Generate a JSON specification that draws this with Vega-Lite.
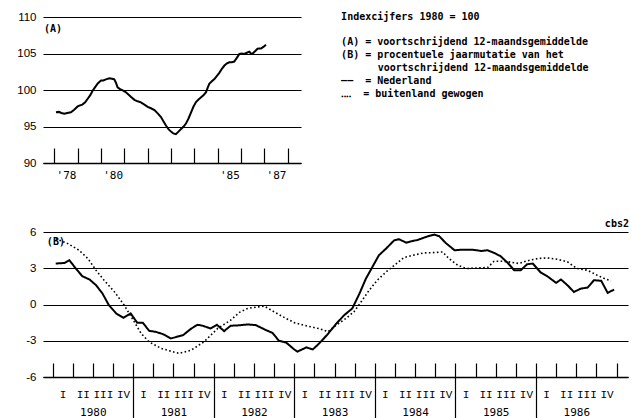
{
  "$schema": "https://vega.github.io/schema/vega-lite/v6.json",
  "background": "white",
  "padding": {"left": 16, "top": 11, "right": 0, "bottom": 0},
  "bounds": "flush",
  "spacing": 69,
  "config": {"view": {"stroke": null}},
  "datasets": {
    "index": [
      {"date": 1978.07, "value": 96.95}, {"date": 1978.2, "value": 97.0}, {"date": 1978.3, "value": 96.85},
      {"date": 1978.43, "value": 96.75}, {"date": 1978.55, "value": 96.85}, {"date": 1978.71, "value": 96.95},
      {"date": 1978.85, "value": 97.3}, {"date": 1979.0, "value": 97.75}, {"date": 1979.1, "value": 97.9},
      {"date": 1979.2, "value": 98.0}, {"date": 1979.32, "value": 98.3}, {"date": 1979.43, "value": 98.8},
      {"date": 1979.54, "value": 99.3}, {"date": 1979.64, "value": 99.9}, {"date": 1979.75, "value": 100.4},
      {"date": 1979.86, "value": 100.9}, {"date": 1979.93, "value": 101.1}, {"date": 1980.0, "value": 101.3},
      {"date": 1980.1, "value": 101.3}, {"date": 1980.21, "value": 101.45}, {"date": 1980.36, "value": 101.6},
      {"date": 1980.47, "value": 101.55}, {"date": 1980.57, "value": 101.45}, {"date": 1980.64, "value": 101.0},
      {"date": 1980.71, "value": 100.35}, {"date": 1980.8, "value": 100.15}, {"date": 1980.93, "value": 99.95},
      {"date": 1981.04, "value": 99.75}, {"date": 1981.14, "value": 99.5}, {"date": 1981.29, "value": 99.05},
      {"date": 1981.43, "value": 98.65}, {"date": 1981.57, "value": 98.45}, {"date": 1981.71, "value": 98.3},
      {"date": 1981.86, "value": 98.0}, {"date": 1982.0, "value": 97.7}, {"date": 1982.14, "value": 97.5},
      {"date": 1982.29, "value": 97.25}, {"date": 1982.43, "value": 96.8}, {"date": 1982.57, "value": 96.3},
      {"date": 1982.68, "value": 95.7}, {"date": 1982.79, "value": 95.1}, {"date": 1982.9, "value": 94.6},
      {"date": 1983.0, "value": 94.3}, {"date": 1983.1, "value": 94.05}, {"date": 1983.21, "value": 93.95},
      {"date": 1983.32, "value": 94.3}, {"date": 1983.43, "value": 94.65}, {"date": 1983.54, "value": 95.0},
      {"date": 1983.64, "value": 95.4}, {"date": 1983.75, "value": 96.1}, {"date": 1983.86, "value": 96.95},
      {"date": 1983.96, "value": 97.7}, {"date": 1984.07, "value": 98.35}, {"date": 1984.18, "value": 98.7},
      {"date": 1984.29, "value": 99.0}, {"date": 1984.4, "value": 99.3}, {"date": 1984.5, "value": 99.7},
      {"date": 1984.57, "value": 100.3}, {"date": 1984.64, "value": 100.85}, {"date": 1984.75, "value": 101.2},
      {"date": 1984.86, "value": 101.5}, {"date": 1984.96, "value": 101.9}, {"date": 1985.07, "value": 102.35},
      {"date": 1985.18, "value": 102.9}, {"date": 1985.29, "value": 103.35}, {"date": 1985.4, "value": 103.65},
      {"date": 1985.5, "value": 103.8}, {"date": 1985.61, "value": 103.8}, {"date": 1985.71, "value": 103.9},
      {"date": 1985.82, "value": 104.4}, {"date": 1985.93, "value": 104.95}, {"date": 1986.04, "value": 105.0},
      {"date": 1986.14, "value": 104.95}, {"date": 1986.25, "value": 105.1}, {"date": 1986.36, "value": 105.25},
      {"date": 1986.43, "value": 104.95}, {"date": 1986.5, "value": 105.0}, {"date": 1986.6, "value": 105.3},
      {"date": 1986.71, "value": 105.65}, {"date": 1986.79, "value": 105.7}, {"date": 1986.86, "value": 105.7},
      {"date": 1986.96, "value": 105.9}, {"date": 1987.07, "value": 106.2}
    ],
    "mutatie": [
      {"series": "Nederland", "date": 1980.04, "value": 3.39}, {"series": "Nederland", "date": 1980.15, "value": 3.44},
      {"series": "Nederland", "date": 1980.21, "value": 3.66}, {"series": "Nederland", "date": 1980.29, "value": 2.97},
      {"series": "Nederland", "date": 1980.37, "value": 2.34}, {"series": "Nederland", "date": 1980.46, "value": 2.07},
      {"series": "Nederland", "date": 1980.54, "value": 1.6}, {"series": "Nederland", "date": 1980.62, "value": 0.91},
      {"series": "Nederland", "date": 1980.7, "value": -0.06}, {"series": "Nederland", "date": 1980.79, "value": -0.74},
      {"series": "Nederland", "date": 1980.88, "value": -1.1}, {"series": "Nederland", "date": 1980.97, "value": -0.74},
      {"series": "Nederland", "date": 1981.05, "value": -1.5}, {"series": "Nederland", "date": 1981.12, "value": -1.5},
      {"series": "Nederland", "date": 1981.2, "value": -2.18}, {"series": "Nederland", "date": 1981.28, "value": -2.26},
      {"series": "Nederland", "date": 1981.37, "value": -2.45}, {"series": "Nederland", "date": 1981.47, "value": -2.81},
      {"series": "Nederland", "date": 1981.53, "value": -2.7}, {"series": "Nederland", "date": 1981.62, "value": -2.54},
      {"series": "Nederland", "date": 1981.72, "value": -2.0}, {"series": "Nederland", "date": 1981.8, "value": -1.68},
      {"series": "Nederland", "date": 1981.86, "value": -1.75}, {"series": "Nederland", "date": 1981.96, "value": -1.98},
      {"series": "Nederland", "date": 1982.04, "value": -1.68}, {"series": "Nederland", "date": 1982.13, "value": -2.2},
      {"series": "Nederland", "date": 1982.21, "value": -1.76}, {"series": "Nederland", "date": 1982.32, "value": -1.72},
      {"series": "Nederland", "date": 1982.42, "value": -1.65}, {"series": "Nederland", "date": 1982.52, "value": -1.7},
      {"series": "Nederland", "date": 1982.65, "value": -2.12}, {"series": "Nederland", "date": 1982.73, "value": -2.35},
      {"series": "Nederland", "date": 1982.81, "value": -3.0}, {"series": "Nederland", "date": 1982.9, "value": -3.15},
      {"series": "Nederland", "date": 1983.0, "value": -3.72}, {"series": "Nederland", "date": 1983.04, "value": -3.9},
      {"series": "Nederland", "date": 1983.15, "value": -3.55}, {"series": "Nederland", "date": 1983.23, "value": -3.72},
      {"series": "Nederland", "date": 1983.31, "value": -3.22}, {"series": "Nederland", "date": 1983.41, "value": -2.5},
      {"series": "Nederland", "date": 1983.52, "value": -1.6}, {"series": "Nederland", "date": 1983.62, "value": -0.88},
      {"series": "Nederland", "date": 1983.72, "value": -0.33}, {"series": "Nederland", "date": 1983.81, "value": 0.91},
      {"series": "Nederland", "date": 1983.89, "value": 2.15}, {"series": "Nederland", "date": 1983.97, "value": 3.11},
      {"series": "Nederland", "date": 1984.05, "value": 4.07}, {"series": "Nederland", "date": 1984.14, "value": 4.63},
      {"series": "Nederland", "date": 1984.24, "value": 5.31}, {"series": "Nederland", "date": 1984.3, "value": 5.4},
      {"series": "Nederland", "date": 1984.39, "value": 5.12}, {"series": "Nederland", "date": 1984.45, "value": 5.23},
      {"series": "Nederland", "date": 1984.53, "value": 5.34}, {"series": "Nederland", "date": 1984.61, "value": 5.53},
      {"series": "Nederland", "date": 1984.67, "value": 5.67}, {"series": "Nederland", "date": 1984.74, "value": 5.78},
      {"series": "Nederland", "date": 1984.8, "value": 5.65}, {"series": "Nederland", "date": 1984.88, "value": 5.09},
      {"series": "Nederland", "date": 1984.99, "value": 4.49}, {"series": "Nederland", "date": 1985.09, "value": 4.54},
      {"series": "Nederland", "date": 1985.21, "value": 4.54}, {"series": "Nederland", "date": 1985.32, "value": 4.43},
      {"series": "Nederland", "date": 1985.4, "value": 4.49}, {"series": "Nederland", "date": 1985.48, "value": 4.27},
      {"series": "Nederland", "date": 1985.56, "value": 4.0}, {"series": "Nederland", "date": 1985.65, "value": 3.44},
      {"series": "Nederland", "date": 1985.73, "value": 2.83}, {"series": "Nederland", "date": 1985.81, "value": 2.83},
      {"series": "Nederland", "date": 1985.89, "value": 3.33}, {"series": "Nederland", "date": 1985.96, "value": 3.39},
      {"series": "Nederland", "date": 1986.06, "value": 2.64}, {"series": "Nederland", "date": 1986.14, "value": 2.34},
      {"series": "Nederland", "date": 1986.25, "value": 1.79}, {"series": "Nederland", "date": 1986.31, "value": 2.07},
      {"series": "Nederland", "date": 1986.39, "value": 1.6}, {"series": "Nederland", "date": 1986.47, "value": 1.04},
      {"series": "Nederland", "date": 1986.56, "value": 1.32}, {"series": "Nederland", "date": 1986.64, "value": 1.4},
      {"series": "Nederland", "date": 1986.72, "value": 2.01}, {"series": "Nederland", "date": 1986.81, "value": 1.96},
      {"series": "Nederland", "date": 1986.89, "value": 0.96}, {"series": "Nederland", "date": 1986.97, "value": 1.24},
      {"series": "buitenland gewogen", "date": 1980.04, "value": 5.45}, {"series": "buitenland gewogen", "date": 1980.19, "value": 5.04},
      {"series": "buitenland gewogen", "date": 1980.33, "value": 4.49}, {"series": "buitenland gewogen", "date": 1980.44, "value": 3.8},
      {"series": "buitenland gewogen", "date": 1980.54, "value": 2.83}, {"series": "buitenland gewogen", "date": 1980.64, "value": 2.01},
      {"series": "buitenland gewogen", "date": 1980.77, "value": 1.04}, {"series": "buitenland gewogen", "date": 1980.89, "value": -0.06},
      {"series": "buitenland gewogen", "date": 1980.99, "value": -1.16}, {"series": "buitenland gewogen", "date": 1981.1, "value": -2.4},
      {"series": "buitenland gewogen", "date": 1981.2, "value": -3.1}, {"series": "buitenland gewogen", "date": 1981.35, "value": -3.64},
      {"series": "buitenland gewogen", "date": 1981.57, "value": -4.05}, {"series": "buitenland gewogen", "date": 1981.72, "value": -3.78},
      {"series": "buitenland gewogen", "date": 1981.88, "value": -3.09}, {"series": "buitenland gewogen", "date": 1982.05, "value": -1.98},
      {"series": "buitenland gewogen", "date": 1982.21, "value": -1.3}, {"series": "buitenland gewogen", "date": 1982.32, "value": -0.65},
      {"series": "buitenland gewogen", "date": 1982.42, "value": -0.33}, {"series": "buitenland gewogen", "date": 1982.54, "value": -0.2},
      {"series": "buitenland gewogen", "date": 1982.63, "value": -0.14}, {"series": "buitenland gewogen", "date": 1982.75, "value": -0.61},
      {"series": "buitenland gewogen", "date": 1982.9, "value": -1.16}, {"series": "buitenland gewogen", "date": 1983.0, "value": -1.5},
      {"series": "buitenland gewogen", "date": 1983.16, "value": -1.78}, {"series": "buitenland gewogen", "date": 1983.31, "value": -2.0},
      {"series": "buitenland gewogen", "date": 1983.42, "value": -2.25}, {"series": "buitenland gewogen", "date": 1983.52, "value": -1.71},
      {"series": "buitenland gewogen", "date": 1983.64, "value": -1.16}, {"series": "buitenland gewogen", "date": 1983.74, "value": -0.61},
      {"series": "buitenland gewogen", "date": 1983.83, "value": 0.22}, {"series": "buitenland gewogen", "date": 1983.93, "value": 1.18},
      {"series": "buitenland gewogen", "date": 1984.03, "value": 2.01}, {"series": "buitenland gewogen", "date": 1984.14, "value": 2.69},
      {"series": "buitenland gewogen", "date": 1984.26, "value": 3.33}, {"series": "buitenland gewogen", "date": 1984.36, "value": 3.88},
      {"series": "buitenland gewogen", "date": 1984.47, "value": 4.07}, {"series": "buitenland gewogen", "date": 1984.61, "value": 4.27},
      {"series": "buitenland gewogen", "date": 1984.74, "value": 4.3}, {"series": "buitenland gewogen", "date": 1984.84, "value": 4.35},
      {"series": "buitenland gewogen", "date": 1984.92, "value": 3.8}, {"series": "buitenland gewogen", "date": 1985.03, "value": 3.25},
      {"series": "buitenland gewogen", "date": 1985.13, "value": 2.98}, {"series": "buitenland gewogen", "date": 1985.28, "value": 3.03},
      {"series": "buitenland gewogen", "date": 1985.4, "value": 3.06}, {"series": "buitenland gewogen", "date": 1985.48, "value": 3.58},
      {"series": "buitenland gewogen", "date": 1985.59, "value": 3.58}, {"series": "buitenland gewogen", "date": 1985.66, "value": 3.53},
      {"series": "buitenland gewogen", "date": 1985.79, "value": 3.39}, {"series": "buitenland gewogen", "date": 1985.89, "value": 3.61},
      {"series": "buitenland gewogen", "date": 1986.02, "value": 3.8}, {"series": "buitenland gewogen", "date": 1986.14, "value": 3.86},
      {"series": "buitenland gewogen", "date": 1986.26, "value": 3.75}, {"series": "buitenland gewogen", "date": 1986.39, "value": 3.53},
      {"series": "buitenland gewogen", "date": 1986.51, "value": 2.98}, {"series": "buitenland gewogen", "date": 1986.64, "value": 2.83},
      {"series": "buitenland gewogen", "date": 1986.76, "value": 2.42}, {"series": "buitenland gewogen", "date": 1986.85, "value": 2.15},
      {"series": "buitenland gewogen", "date": 1986.93, "value": 1.96}
    ]
  },
  "vconcat": [
    {
      "width": 258,
      "height": 146,
      "layer": [
        {
          "data": {"name": "index"},
          "mark": {"type": "line", "color": "black", "strokeWidth": 2, "clip": false},
          "encoding": {
            "x": {
              "field": "date", "type": "quantitative",
              "scale": {"domain": [1977.514, 1988.571], "nice": false, "zero": false},
              "axis": {
                "orient": "bottom",
                "values": [1978, 1979, 1980, 1981, 1982, 1983, 1984, 1985, 1986, 1987, 1988],
                "title": null, "grid": false,
                "domain": true, "domainColor": "black", "domainWidth": 1.3,
                "ticks": true, "tickSize": -15, "tickColor": "black", "tickWidth": 1.2,
                "labelExpr": "indexof([1978, 1980, 1985, 1987], datum.value) >= 0 ? \"'\" + slice(toString(datum.value), 2) : ''",
                "labelOffset": 11.67, "labelPadding": 21, "labelFont": "DejaVu Sans Mono", "labelFontSize": 11,
                "labelColor": "black", "labelFlush": false, "labelOverlap": false, "labelBound": false
              }
            },
            "y": {
              "field": "value", "type": "quantitative",
              "scale": {"domain": [90, 110], "nice": false, "zero": false},
              "axis": {
                "orient": "left",
                "values": [90, 95, 100, 105, 110], "title": null,
                "grid": true, "gridColor": "black", "gridWidth": 1.2, "gridOpacity": 1,
                "ticks": false, "domain": false, "labelPadding": 7, "labelOverlap": false,
                "labelFont": "Liberation Sans", "labelFontSize": 11.5, "labelColor": "black"
              }
            }
          }
        },
        {
          "data": {"values": [{}]},
          "mark": {"type": "text", "text": "(A)", "align": "left", "baseline": "middle", "font": "DejaVu Sans Mono", "fontWeight": "bold", "fontSize": 10, "color": "black"},
          "encoding": {
            "x": {"datum": 1977.557, "type": "quantitative", "axis": null},
            "y": {"datum": 108.4, "type": "quantitative", "axis": null}
          }
        },
        {
          "data": {"values": [{}]},
          "mark": {"type": "text", "text": "Indexcijfers 1980 = 100", "align": "left", "baseline": "middle", "font": "DejaVu Sans Mono", "fontWeight": "bold", "fontSize": 10, "color": "black"},
          "encoding": {
            "x": {"datum": 1990.29, "type": "quantitative", "axis": null},
            "y": {"datum": 110.0, "type": "quantitative", "axis": null}
          }
        },
        {
          "data": {"values": [{}]},
          "mark": {
            "type": "text",
            "text": [
              "(A) = voortschrijdend 12-maandsgemiddelde",
              "(B) = procentuele jaarmutatie van het"
            ],
            "lineHeight": 12.9,
            "align": "left", "baseline": "middle",
            "font": "DejaVu Sans Mono", "fontWeight": "bold", "fontSize": 10, "color": "black"
          },
          "encoding": {
            "x": {"datum": 1990.29, "type": "quantitative", "axis": null},
            "y": {"datum": 106.56, "type": "quantitative", "axis": null}
          }
        },
        {
          "data": {"values": [{}]},
          "mark": {
            "type": "text",
            "text": "voortschrijdend 12-maandsgemiddelde",
            "align": "left", "baseline": "middle",
            "font": "DejaVu Sans Mono", "fontWeight": "bold", "fontSize": 10, "color": "black"
          },
          "encoding": {
            "x": {"datum": 1991.86, "type": "quantitative", "axis": null},
            "y": {"datum": 103.05, "type": "quantitative", "axis": null}
          }
        },
        {
          "data": {"values": [{}]},
          "mark": {
            "type": "text",
            "text": [
              "\u2014\u2014\u00a0\u00a0=\u00a0Nederland",
              "\u2025\u2025\u00a0\u00a0=\u00a0buitenland gewogen"
            ],
            "lineHeight": 12.9,
            "align": "left", "baseline": "middle",
            "font": "DejaVu Sans Mono", "fontWeight": "bold", "fontSize": 10, "color": "black"
          },
          "encoding": {
            "x": {"datum": 1990.29, "type": "quantitative", "axis": null},
            "y": {"datum": 101.28, "type": "quantitative", "axis": null}
          }
        }
      ],
      "resolve": {"axis": {"x": "independent", "y": "independent"}}
    },
    {
      "width": 585,
      "height": 145,
      "layer": [
        {
          "data": {"name": "mutatie"},
          "mark": {"type": "line", "color": "black", "clip": false, "strokeCap": "butt"},
          "encoding": {
            "x": {
              "field": "date", "type": "quantitative",
              "scale": {"domain": [1979.882, 1987.142], "nice": false, "zero": false},
              "axis": {
                "orient": "bottom",
                "values": [1980, 1980.25, 1980.5, 1980.75, 1981, 1981.25, 1981.5, 1981.75, 1982, 1982.25, 1982.5, 1982.75, 1983, 1983.25, 1983.5, 1983.75, 1984, 1984.25, 1984.5, 1984.75, 1985, 1985.25, 1985.5, 1985.75, 1986, 1986.25, 1986.5, 1986.75, 1987],
                "title": null, "grid": false,
                "domain": true, "domainColor": "black", "domainWidth": 1.3,
                "ticks": true, "tickSize": -14, "tickColor": "black", "tickWidth": 1.2,
                "labelExpr": "datum.value >= 1987 ? '' : ['I', 'II', 'III', 'IV'][round((datum.value - floor(datum.value)) * 4)]",
                "labelOffset": 10.07, "labelPadding": 25, "labelFont": "Liberation Mono", "labelFontSize": 11,
                "labelColor": "black", "labelFlush": false, "labelOverlap": false, "labelBound": false
              }
            },
            "y": {
              "field": "value", "type": "quantitative",
              "scale": {"domain": [-6, 6], "nice": false, "zero": false},
              "axis": {
                "orient": "left",
                "values": [-6, -3, 0, 3, 6], "title": null,
                "grid": true, "gridColor": "black", "gridWidth": 1.2, "gridOpacity": 1,
                "ticks": false, "domain": false, "labelPadding": 7, "labelOverlap": false,
                "labelExpr": "toString(datum.value)",
                "labelFont": "Liberation Sans", "labelFontSize": 11.5, "labelColor": "black"
              }
            },
            "strokeDash": {
              "field": "series", "type": "nominal",
              "scale": {"domain": ["Nederland", "buitenland gewogen"], "range": [[1, 0], [1.6, 2.4]]},
              "legend": null
            },
            "strokeWidth": {
              "field": "series", "type": "nominal",
              "scale": {"domain": ["Nederland", "buitenland gewogen"], "range": [2, 1.6]},
              "legend": null
            }
          }
        },
        {
          "data": {"values": [{}]},
          "mark": {"type": "text", "text": "cbs2", "align": "right", "baseline": "middle", "font": "DejaVu Sans Mono", "fontWeight": "bold", "fontSize": 10, "color": "black"},
          "encoding": {
            "x": {
              "datum": 1987.154, "type": "quantitative",
              "axis": {
                "orient": "bottom",
                "values": [1980, 1981, 1982, 1983, 1984, 1985, 1986],
                "title": null, "grid": false, "domain": false,
                "ticks": true, "tickSize": 42, "tickColor": "black", "tickWidth": 1.2,
                "tickOpacity": {"condition": {"test": "datum.value == 1980", "value": 0}, "value": 1},
                "labelExpr": "toString(datum.value)",
                "labelOffset": 40.3, "labelPadding": -13, "labelFont": "DejaVu Sans Mono", "labelFontSize": 11,
                "labelColor": "black", "labelFlush": false, "labelOverlap": false, "labelBound": false
              }
            },
            "y": {"datum": 6.69, "type": "quantitative", "axis": null}
          }
        },
        {
          "data": {"values": [{}]},
          "mark": {"type": "text", "text": "(B)", "align": "left", "baseline": "middle", "font": "DejaVu Sans Mono", "fontWeight": "bold", "fontSize": 10, "color": "black"},
          "encoding": {
            "x": {"datum": 1979.93, "type": "quantitative", "axis": null},
            "y": {"datum": 5.2, "type": "quantitative", "axis": null}
          }
        }
      ],
      "resolve": {"axis": {"x": "independent", "y": "independent"}}
    }
  ]
}
